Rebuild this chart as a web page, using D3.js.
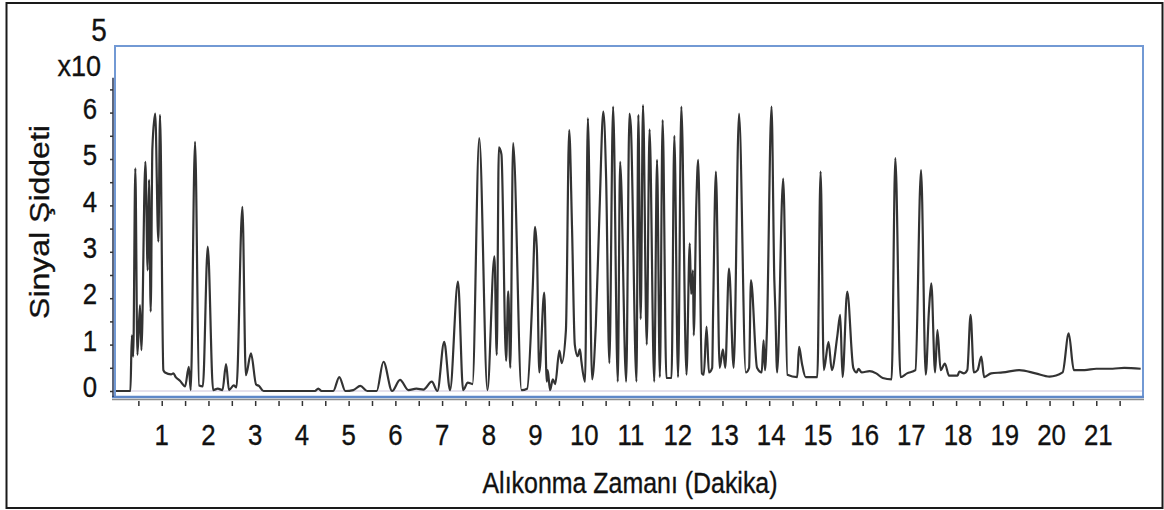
<!DOCTYPE html>
<html>
<head>
<meta charset="utf-8">
<script src="https://cdn.jsdelivr.net/npm/d3@7"></script>
<style>
  body { margin: 0; background: #fff; }
  svg { display: block; }
  text { font-family: "Liberation Sans", Arial, sans-serif; fill: #111; stroke: #111; stroke-width: 0.35px; }
</style>
</head>
<body>
<svg id="chart" width="1164" height="510"></svg>
<script>
// Retention time (minutes) and signal intensity (x10^5) of the chromatogram trace
const times = [
  0.00, 0.33, 0.36, 0.39, 0.435, 0.48, 0.535, 0.565, 0.65, 0.70, 0.728, 0.764, 0.80, 0.86, 0.928, 0.964,
  1.035, 1.07, 1.20, 1.25, 1.30, 1.39, 1.50, 1.58, 1.62, 1.713, 1.80, 1.88, 1.985, 2.10, 2.20, 2.30,
  2.377, 2.44, 2.54, 2.60, 2.726, 2.80, 2.91, 3.02, 3.08, 3.18, 4.28, 4.35, 4.42, 4.67, 4.80, 4.93,
  5.10, 5.25, 5.40, 5.60, 5.745, 5.93, 6.10, 6.28, 6.45, 6.60, 6.78, 6.90, 7.045, 7.17, 7.34, 7.45,
  7.55, 7.65, 7.795, 7.97, 8.12, 8.17, 8.215, 8.27, 8.37, 8.415, 8.46, 8.52, 8.70, 8.82, 8.94, 8.99,
  9.03, 9.08, 9.186, 9.24, 9.26, 9.31, 9.37, 9.42, 9.51, 9.56, 9.65, 9.72, 9.78, 9.84, 9.90, 9.95,
  9.98, 10.06, 10.12, 10.21, 10.29, 10.37, 10.45, 10.51, 10.58, 10.66, 10.76, 10.81, 10.94, 11.01, 11.04, 11.16,
  11.20, 11.25, 11.30, 11.38, 11.44, 11.54, 11.60, 11.66, 11.72, 11.80, 11.91, 11.97, 12.05, 12.12, 12.23, 12.30,
  12.33, 12.37, 12.385, 12.44, 12.48, 12.56, 12.60, 12.66, 12.71, 12.78, 12.80, 12.86, 12.94, 13.01, 13.06, 13.14,
  13.24, 13.355, 13.50, 13.57, 13.61, 13.74, 13.84, 13.88, 13.91, 13.95, 14.05, 14.11, 14.13, 14.17, 14.30, 14.39,
  14.60, 14.64, 14.70, 14.78, 15.03, 15.10, 15.17, 15.27, 15.34, 15.46, 15.52, 15.57, 15.67, 15.80, 15.87, 15.91,
  15.98, 16.15, 16.29, 16.43, 16.62, 16.70, 16.81, 16.95, 17.13, 17.25, 17.35, 17.42, 17.47, 17.55, 17.60, 17.67,
  17.76, 17.85, 18.03, 18.07, 18.17, 18.24, 18.31, 18.38, 18.46, 18.54, 18.60, 18.75, 19.00, 19.35, 19.70, 20.00,
  20.28, 20.41, 20.52, 20.75, 21.00, 21.35, 21.60, 21.95
];
const signal = [
  0.00, 0.00, 1.20, 0.74, 4.80, 0.78, 1.85, 0.88, 4.94, 2.60, 4.55, 1.71, 5.23, 5.98, 3.22, 5.95,
  0.45, 0.40, 0.36, 0.38, 0.30, 0.22, 0.10, 0.52, 0.02, 5.37, 0.12, 0.10, 3.11, 0.02, 0.05, 0.02,
  0.58, 0.02, 0.12, 0.08, 3.97, 0.34, 0.81, 0.14, 0.11, 0.00, 0.00, 0.05, 0.00, 0.00, 0.30, 0.00,
  0.02, 0.11, 0.00, 0.00, 0.63, 0.00, 0.24, 0.02, 0.05, 0.03, 0.20, 0.00, 1.06, 0.02, 2.36, 0.02,
  0.18, 0.15, 5.45, 0.02, 2.90, 0.78, 5.25, 5.10, 0.65, 2.15, 0.50, 5.34, 0.02, 0.05, 2.22, 3.54,
  3.00, 0.40, 2.12, 0.20, 0.45, 0.02, 0.25, 0.15, 0.87, 0.60, 1.31, 5.62, 3.55, 1.00, 0.75, 0.90,
  0.65, 0.20, 5.88, 0.25, 1.42, 3.90, 6.02, 4.60, 0.60, 6.13, 0.20, 4.94, 0.20, 5.98, 5.70, 0.20,
  5.95, 1.55, 6.16, 1.00, 5.64, 0.20, 4.98, 0.30, 5.84, 0.28, 0.28, 5.50, 0.30, 6.13, 0.35, 3.18,
  2.09, 2.60, 1.20, 4.00, 4.98, 0.38, 0.35, 1.39, 0.40, 0.50, 1.70, 4.73, 0.50, 0.90, 0.50, 2.64,
  0.50, 5.98, 0.40, 0.50, 2.39, 0.50, 0.40, 1.09, 0.45, 1.25, 6.13, 2.40, 1.80, 0.40, 4.58, 0.35,
  0.30, 0.95, 0.60, 0.30, 0.30, 4.73, 0.45, 1.06, 0.45, 1.20, 1.64, 0.30, 2.14, 0.50, 0.40, 0.48,
  0.40, 0.43, 0.38, 0.28, 0.25, 5.02, 0.30, 0.38, 0.45, 4.76, 0.35, 1.75, 2.32, 0.40, 1.31, 0.45,
  0.59, 0.33, 0.33, 0.42, 0.38, 0.45, 1.64, 0.40, 0.45, 0.74, 0.30, 0.38, 0.40, 0.45, 0.38, 0.31,
  0.40, 1.24, 0.45, 0.45, 0.48, 0.48, 0.50, 0.48
];

// Axis labels
const xTickLabels = [1, 2, 3, 4, 5, 6, 7, 8, 9, 10, 11, 12, 13, 14, 15, 16, 17, 18, 19, 20, 21];
const yTickLabels = [0, 1, 2, 3, 4, 5, 6];
const xTitle = "Alıkonma Zamanı (Dakika)";
const yTitle = "Sinyal Şiddeti";
const scaleBase = "x10";
const scaleExp = "5";

const svg = d3.select("#chart");

// Outer frame
svg.append("rect")
  .attr("x", 6.5).attr("y", 3).attr("width", 1156).attr("height", 505)
  .attr("fill", "none").attr("stroke", "#1a1a1a").attr("stroke-width", 2);

const x = d3.scaleLinear().domain([0, 22]).range([115, 1143]);
const y = d3.scaleLinear().domain([0, 7.435]).range([391, 46]);

const plotLeft = x(0), plotRight = x(22), plotTop = y(7.435), plotBottom = y(0) + 6;

// Zero line inside the plot
svg.append("line")
  .attr("x1", plotLeft).attr("x2", plotRight)
  .attr("y1", y(0)).attr("y2", y(0))
  .attr("stroke", "#ddd6e4").attr("stroke-width", 1.5);

// Chromatogram trace
const points = times.map((t, i) => ({ t, v: signal[i] }));
svg.append("clipPath").attr("id", "plot-clip")
  .append("rect")
  .attr("x", plotLeft).attr("y", plotTop)
  .attr("width", plotRight - plotLeft).attr("height", plotBottom - plotTop);

svg.append("path")
  .datum(points)
  .attr("clip-path", "url(#plot-clip)")
  .attr("fill", "none")
  .attr("stroke", "#333")
  .attr("stroke-width", 2.2)
  .attr("stroke-linejoin", "round")
  .attr("d", d3.line().x(d => x(d.t)).y(d => y(d.v)).curve(d3.curveMonotoneX));

// Plot border
svg.append("rect")
  .attr("x", plotLeft).attr("y", plotTop)
  .attr("width", plotRight - plotLeft).attr("height", plotBottom - plotTop)
  .attr("fill", "none").attr("stroke", "#7299d4").attr("stroke-width", 2);

// Bottom edge: heavier blue with a grey rule beneath
svg.append("line")
  .attr("x1", plotLeft - 3).attr("x2", plotRight + 1)
  .attr("y1", plotBottom).attr("y2", plotBottom)
  .attr("stroke", "#5f88c8").attr("stroke-width", 2.5);
svg.append("line")
  .attr("x1", plotLeft - 3).attr("x2", plotRight + 1)
  .attr("y1", plotBottom + 2.5).attr("y2", plotBottom + 2.5)
  .attr("stroke", "#8c8c8c").attr("stroke-width", 1.5);

// X axis ticks every half minute
const xAxis = d3.axisBottom(x)
  .tickValues(d3.range(0.5, 22, 0.5))
  .tickSize(5)
  .tickFormat("");
const gx = svg.append("g").attr("transform", `translate(0,${plotBottom + 4})`).call(xAxis);
gx.select(".domain").remove();
gx.selectAll(".tick line").attr("stroke", "#333").attr("stroke-width", 1.5);

svg.append("g").selectAll("text")
  .data(xTickLabels)
  .join("text")
  .attr("transform", d => `translate(${x(d) + (d >= 10 ? 2 : 0)},445) scale(0.86,1)`)
  .attr("text-anchor", "middle")
  .attr("font-size", 30)
  .text(d => d);

// Y axis with half-unit ticks
const yAxisX = plotLeft - 2;
svg.append("line")
  .attr("x1", yAxisX).attr("x2", yAxisX)
  .attr("y1", plotBottom).attr("y2", y(6.75))
  .attr("stroke", "#2a3550").attr("stroke-width", 1.5);
const yAxis = d3.axisLeft(y)
  .tickValues(d3.range(0, 7, 0.5))
  .tickSize(3)
  .tickFormat("");
const gy = svg.append("g").attr("transform", `translate(${yAxisX},0)`).call(yAxis);
gy.select(".domain").remove();
gy.selectAll(".tick line").attr("stroke", "#333").attr("stroke-width", 1.5);

svg.append("g").selectAll("text")
  .data(yTickLabels)
  .join("text")
  .attr("transform", d => `translate(97,${y(d) - 4}) scale(0.86,1)`)
  .attr("text-anchor", "end")
  .attr("dominant-baseline", "central")
  .attr("font-size", 30)
  .text(d => d);

// Scale factor above the y axis
svg.append("text")
  .attr("transform", "translate(101,76) scale(0.9,1)")
  .attr("text-anchor", "end")
  .attr("font-size", 30)
  .text(scaleBase);
svg.append("text")
  .attr("transform", "translate(99,41) scale(0.9,1)")
  .attr("text-anchor", "middle")
  .attr("font-size", 31)
  .text(scaleExp);

// Axis titles
svg.append("text")
  .attr("transform", "translate(630,493) scale(0.86,1)")
  .attr("text-anchor", "middle")
  .attr("font-size", 29)
  .text(xTitle);

svg.append("text")
  .attr("transform", "translate(49,222) rotate(-90) scale(1,0.88)")
  .attr("text-anchor", "middle")
  .attr("font-size", 32)
  .text(yTitle);
</script>
</body>
</html>
